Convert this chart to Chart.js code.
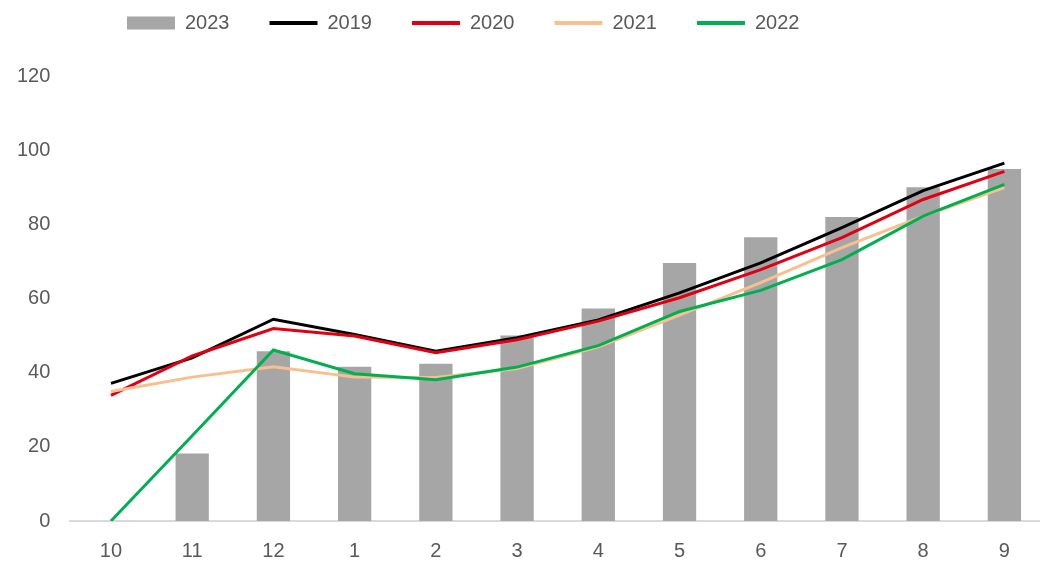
<!DOCTYPE html>
<html>
<head>
<meta charset="utf-8">
<script src="https://cdn.jsdelivr.net/npm/chart.js@4/dist/chart.umd.min.js"></script>
<style>
  html, body { margin: 0; padding: 0; background: #fff; overflow: hidden; }
  #wrap { width: 1045px; height: 561px; position: relative; }
</style>
</head>
<body>
<div id="wrap"><canvas id="myChart"></canvas></div>
<script>
var months = ['10', '11', '12', '1', '2', '3', '4', '5', '6', '7', '8', '9'];
var y2023 = [null, 18.2, 45.8, 41.6, 42.4, 50.0, 57.3, 69.6, 76.5, 82.0, 90.0, 94.9];
var y2019 = [37.1, 44.0, 54.4, 50.3, 45.8, 49.4, 54.2, 61.5, 69.6, 79.1, 89.1, 96.5];
var y2020 = [33.9, 44.5, 51.9, 49.9, 45.4, 48.9, 53.9, 60.2, 67.8, 76.4, 86.7, 94.3];
var y2021 = [34.9, 38.8, 41.6, 38.8, 38.7, 41.1, 47.0, 55.5, 64.3, 73.7, 82.2, 89.9];
var y2022 = [0, 23.0, 46.1, 39.7, 38.1, 41.5, 47.3, 56.5, 62.2, 70.5, 82.2, 90.8];
var yTicks = [0, 20, 40, 60, 80, 100, 120];

var font = 'Liberation Sans, Arial, sans-serif';
var textColor = '#595959';

function lineSet(label, data, color, order) {
  return {
    type: 'line',
    label: label,
    data: data,
    borderColor: color,
    backgroundColor: color,
    borderWidth: 3,
    pointRadius: 0,
    tension: 0,
    fill: false,
    order: order
  };
}

// move the legend row to where the original has it, without touching the plot area
var legendShift = {
  id: 'legendShift',
  afterLayout: function (chart) {
    chart.legend.left = 87;
    chart.legend.top = -27;
  }
};

var ctx = document.getElementById('myChart');
var myChart = new Chart(ctx, {
  type: 'bar',
  data: {
    labels: months,
    datasets: [
      {
        label: '2023',
        data: y2023,
        backgroundColor: '#a6a6a6',
        borderWidth: 0,
        categoryPercentage: 1,
        barPercentage: 0.41,
        order: 5
      },
      lineSet('2019', y2019, '#000000', 4),
      lineSet('2020', y2020, '#e00012', 3),
      lineSet('2021', y2021, '#f8c08f', 2),
      lineSet('2022', y2022, '#00b050', 1)
    ]
  },
  plugins: [legendShift],
  options: {
    responsive: true,
    maintainAspectRatio: false,
    animation: false,
    layout: {
      padding: { left: -3, right: 0, top: 6, bottom: -20 }
    },
    plugins: {
      tooltip: { enabled: false },
      legend: {
        position: 'top',
        align: 'start',
        labels: {
          color: textColor,
          font: { family: font, size: 20 },
          usePointStyle: true,
          pointStyleWidth: 48,
          boxHeight: 13,
          padding: 40,
          sort: function (a, b) { return a.datasetIndex - b.datasetIndex; },
          generateLabels: function (chart) {
            var items = Chart.defaults.plugins.legend.labels.generateLabels(chart);
            items.forEach(function (it) {
              var ds = chart.data.datasets[it.datasetIndex];
              if (ds.type === 'line') {
                it.pointStyle = 'line';
                it.lineWidth = 4;
                it.strokeStyle = ds.borderColor;
              } else {
                it.pointStyle = 'rect';
                it.lineWidth = 0;
              }
            });
            return items;
          }
        }
      }
    },
    scales: {
      x: {
        grid: { display: false, drawTicks: false },
        border: { display: true, color: '#d9d9d9', width: 2 },
        ticks: { color: textColor, font: { family: font, size: 20 }, padding: 18, maxRotation: 0 }
      },
      y: {
        min: 0,
        max: 120,
        afterBuildTicks: function (axis) {
          axis.ticks = yTicks.map(function (v) { return { value: v }; });
        },
        grid: { display: false, drawTicks: false },
        border: { display: false },
        ticks: { color: textColor, font: { family: font, size: 20 }, padding: 20 }
      }
    }
  }
});
</script>
</body>
</html>
